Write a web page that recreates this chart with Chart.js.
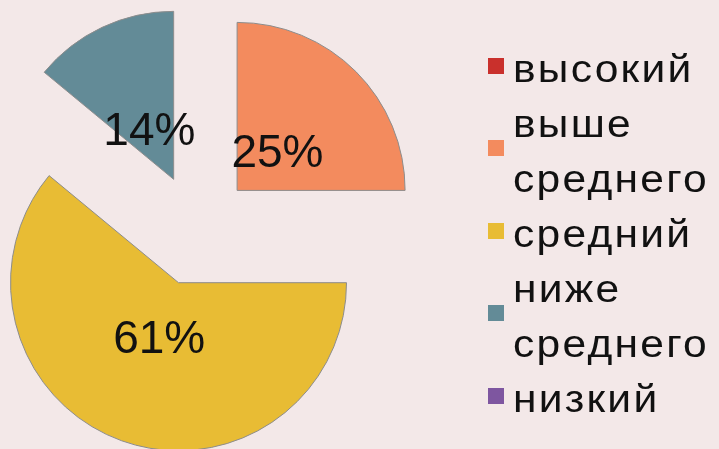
<!DOCTYPE html>
<html>
<head>
<meta charset="utf-8">
<script src="https://cdn.jsdelivr.net/npm/chart.js@4.4.0/dist/chart.umd.min.js"></script>
<style>
  html, body { margin: 0; padding: 0; background: #f3e8e8; overflow: hidden; }
  #wrap { position: relative; width: 719px; height: 449px; }
  #pieChart { position: absolute; left: 0; top: 0; }
  #legend { position: absolute; left: 488px; top: 42px; width: 231px;
            font-family: "Liberation Sans", Arial, sans-serif; font-size: 38px; letter-spacing: 2px; color: #111; }
  .item { display: flex; align-items: center; }
  .box { width: 16px; height: 16px; flex: none; margin-right: 9px; margin-bottom: 8px; }
  .txt { line-height: 55px; white-space: nowrap; transform: scaleX(1.12); transform-origin: left center; }
</style>
</head>
<body>
<div id="wrap">
  <canvas id="pieChart" width="719" height="449"></canvas>
  <div id="legend"></div>
</div>
<script>
// data
const categories = ['высокий', 'выше среднего', 'средний', 'ниже среднего', 'низкий'];
const shares = [0, 25, 61, 14, 0];
const sliceColors = ['#c9302c', '#f38b5e', '#e8bc34', '#638b97', '#7e56a0'];
const explode = [0, 56, 56, 56, 0];

// pull slices out along their middle angle (the built-in offset also grows the radius)
const explodeSlices = {
    id: 'explodeSlices',
    afterUpdate(chart) {
        chart.getDatasetMeta(0).data.forEach((arc, i) => {
            if (arc.exploded) return;
            const draw = arc.draw;
            arc.draw = function (ctx) {
                const mid = (this.startAngle + this.endAngle) / 2;
                ctx.save();
                ctx.translate(Math.cos(mid) * explode[i], Math.sin(mid) * explode[i]);
                draw.call(this, ctx);
                ctx.restore();
            };
            arc.exploded = true;
        });
    }
};

// percent labels inside each slice
const percentLabels = {
    id: 'percentLabels',
    afterDatasetsDraw(chart) {
        const ctx = chart.ctx;
        const meta = chart.getDatasetMeta(0);
        ctx.save();
        ctx.font = '46px "Liberation Sans", Arial, sans-serif';
        ctx.fillStyle = '#111';
        ctx.textAlign = 'center';
        ctx.textBaseline = 'alphabetic';
        meta.data.forEach((arc, i) => {
            if (!shares[i]) return;
            const mid = (arc.startAngle + arc.endAngle) / 2;
            const dist = explode[i] + arc.outerRadius * 0.34;
            ctx.fillText(shares[i] + '%', arc.x + Math.cos(mid) * dist, arc.y + Math.sin(mid) * dist + 17);
        });
        ctx.restore();
    }
};

const ctx = document.getElementById('pieChart').getContext('2d');
const myChart = new Chart(ctx, {
    type: 'pie',
    data: {
        labels: categories,
        datasets: [{
            data: shares,
            backgroundColor: sliceColors,
            borderColor: '#8c8c8c',
            borderWidth: [0, 1, 1, 1, 0],
            radius: 168
        }]
    },
    options: {
        responsive: false,
        animation: false,
        layout: { padding: { left: 0, right: 324, top: 34, bottom: 23 } },
        plugins: {
            legend: { display: false },
            tooltip: { enabled: false }
        }
    },
    plugins: [explodeSlices, percentLabels]
});
myChart.draw();

// legend built from the same arrays
const legend = document.getElementById('legend');
categories.forEach((name, i) => {
    legend.insertAdjacentHTML('beforeend',
        `<div class="item">
            <span class="box" style="background:${sliceColors[i]}"></span>
            <span class="txt">${name.split(' ').join('<br>')}</span>
         </div>`);
});
</script>
</body>
</html>
